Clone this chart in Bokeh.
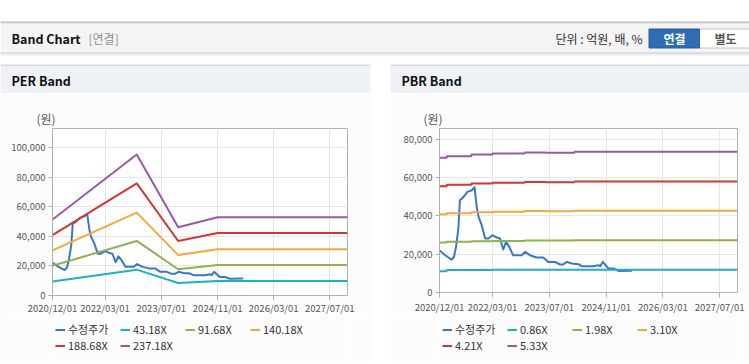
import pandas as pd
from bokeh.plotting import figure
from bokeh.layouts import column, row
from bokeh.models import (Range1d, FixedTicker, DatetimeTickFormatter, NumeralTickFormatter,
                          Legend, LegendItem, Title, Spacer, GlobalInlineStyleSheet)
from bokeh.core.properties import value
from bokeh.embed import file_html
from bokeh.resources import INLINE

# ---------------- data ----------------
x_start = "2020-12-01"
x_end = "2027-12-01"
x_tick_dates = ["2020-12-01", "2022-03-01", "2023-07-01", "2024-11-01", "2026-03-01", "2027-07-01"]

per_y_ticks = [0, 20000, 40000, 60000, 80000, 100000]
per_y_max = 112800
pbr_y_ticks = [0, 20000, 40000, 60000, 80000]
pbr_y_max = 85750

price_label = "수정주가"
price_dates = ["2020-12-01", "2021-01-19", "2021-03-01", "2021-03-16", "2021-04-04", "2021-04-22",
               "2021-05-13", "2021-05-25", "2021-06-25", "2021-07-28", "2021-09-04", "2021-09-28",
               "2021-10-16", "2021-11-01", "2021-11-28", "2021-12-28", "2022-01-25", "2022-02-28",
               "2022-04-07", "2022-05-04", "2022-06-01", "2022-06-25", "2022-07-22", "2022-08-25",
               "2022-11-07", "2022-12-04", "2023-01-16", "2023-03-13", "2023-05-10", "2023-06-22",
               "2023-08-19", "2023-10-01", "2023-10-28", "2023-11-28", "2024-01-10", "2024-03-07",
               "2024-04-04", "2024-07-13", "2024-08-25", "2024-09-10", "2024-10-01", "2024-11-19",
               "2025-01-01", "2025-02-13", "2025-06-10"]
price_values = [22000, 19500, 17770, 17250, 18640, 23860,
                34300, 48260, 49990, 52600, 53490, 55000,
                44760, 39530, 35190, 28230, 28230, 29960,
                28760, 28230, 22480, 26460, 23860, 19500,
                19500, 21230, 19500, 18300, 18300, 16000,
                16000, 14640, 14640, 16000, 15160, 14800,
                13750, 13750, 14280, 13750, 16000, 12550,
                12550, 11300, 11400]

per_band_dates = ["2020-12-01", "2022-12-01", "2023-11-25", "2024-11-01", "2027-12-01"]
per_labels = ["43.18X", "91.68X", "140.18X", "188.68X", "237.18X"]
per_band_1 = [9500, 17450, 8450, 9750, 9750]
per_band_2 = [20100, 36850, 17700, 20600, 20600]
per_band_3 = [30500, 56000, 27300, 31200, 31200]
per_band_4 = [40800, 75700, 36800, 42200, 42200]
per_band_5 = [51300, 95200, 46150, 52900, 52900]

pbr_band_dates = ["2020-12-01", "2021-02-01", "2021-09-01", "2022-03-01", "2022-12-01",
                  "2023-06-01", "2024-02-01", "2027-12-01"]
pbr_labels = ["0.86X", "1.98X", "3.10X", "4.21X", "5.33X"]
pbr_band_1 = [11150, 11800, 11800, 11850, 11850, 11850, 11870, 11870]
pbr_band_2 = [26152, 26473, 26789, 26987, 27185, 27126, 27318, 27318]
pbr_band_3 = [40945, 41447, 41943, 42253, 42563, 42470, 42771, 42771]
pbr_band_4 = [55606, 56288, 56961, 57382, 57803, 57677, 58085, 58085]
pbr_band_5 = [70399, 71262, 72115, 72648, 73181, 73021, 73538, 73538]

price_color = "#3a76c6"
band_colors = ["#1fb0c8", "#8db24f", "#f5a83a", "#d23630", "#9a58a2"]

FONT = "Noto Sans CJK KR"
W = 749
PANEL_BG = "#fcfcfc"


def dts(lst):
    return pd.to_datetime(lst)


def blank_fig(width, height, bg):
    f = figure(width=width, height=height, x_range=Range1d(0, width), y_range=Range1d(height, 0),
               x_axis_location=None, y_axis_location=None, min_border=0,
               output_backend="svg", toolbar_location=None)
    f.grid.visible = False
    f.outline_line_color = None
    f.background_fill_color = bg
    f.border_fill_color = bg
    return f


# ---------------- header (page chrome) ----------------
top = blank_fig(W, 93, "white")
top.quad(left=[0, 0, 0, 0, 0, 0], right=[W, W, W, W, W, W],
         top=[21, 23, 52, 53, 54, 55], bottom=[23, 52, 53, 54, 55, 56],
         fill_color=["#c2c2c2", "#f4f4f4", "#c6c6c6", "#dcdcdc", "#ebebeb", "#f6f6f6"],
         line_color=None)
top.quad(left=[0, 0, 390, 390], right=[370, 370, W, W],
         top=[64, 65.5, 64, 65.5], bottom=[65.5, 93, 65.5, 93],
         fill_color=["#d6dade", "#eef1f6", "#d6dade", "#eef1f6"], line_color=None)
top.quad(left=[699], right=[W + 5], top=[28.5], bottom=[47.5],
         fill_color="#ffffff", line_color="#c4c4c4", line_width=1)
top.quad(left=[648.5], right=[699], top=[28.5], bottom=[47.5],
         fill_color="#2f6db3", line_color="#285f9e", line_width=1)

top.text(x=[11], y=[38], text=["Band Chart"], text_font=value(FONT), text_font_style="bold",
         text_font_size="12.5px", text_baseline="middle", text_color="#111111")
top.text(x=[88], y=[38], text=["[연결]"], text_font=value(FONT),
         text_font_size="12px", text_baseline="middle", text_color="#8c8c8c")
top.text(x=[642], y=[38], text=["단위 : 억원, 배, %"], text_font=value(FONT),
         text_font_size="12px", text_baseline="middle", text_align="right", text_color="#333333")
top.text(x=[674], y=[38], text=["연결"], text_font=value(FONT), text_font_style="bold",
         text_font_size="12px", text_baseline="middle", text_align="center", text_color="#ffffff")
top.text(x=[725], y=[38], text=["별도"], text_font=value(FONT), text_font_style="bold",
         text_font_size="12px", text_baseline="middle", text_align="center", text_color="#555555")
top.text(x=[11, 401], y=[79.5, 79.5], text=["PER Band", "PBR Band"], text_font=value(FONT),
         text_font_style="bold", text_font_size="12.5px", text_baseline="middle", text_color="#111111")


# ---------------- charts ----------------
CHART_H = 225   # from y=93 to y=318
LEG_H = 43      # from y=318 to y=361


def draw_series(p, band_dates, bands, step):
    rs = [p.line(dts(price_dates), price_values, line_color=price_color, line_width=2, line_join="round")]
    for vals, col in zip(bands, band_colors):
        if step:
            rs.append(p.step(dts(band_dates), vals, mode="after", line_color=col, line_width=2))
        else:
            rs.append(p.line(dts(band_dates), vals, line_color=col, line_width=2, line_join="round"))
    return rs


def make_chart(b_left, frame_w, b_right, frame_h, y_max, y_ticks, band_dates, bands,
               step, x_standoff):
    p = figure(frame_width=frame_w, frame_height=frame_h,
               min_border_left=b_left, min_border_right=b_right,
               min_border_top=35, min_border_bottom=CHART_H - 35 - frame_h,
               x_axis_type="datetime",
               x_range=Range1d(pd.Timestamp(x_start).to_pydatetime(), pd.Timestamp(x_end).to_pydatetime()),
               y_range=Range1d(0, y_max),
               output_backend="svg", toolbar_location=None)
    p.background_fill_color = "white"
    p.border_fill_color = PANEL_BG
    p.outline_line_color = "#b0b0b0"
    p.outline_line_width = 1

    p.xaxis.ticker = FixedTicker(ticks=[pd.Timestamp(d).value / 1e6 for d in x_tick_dates])
    fmt = "%Y/%m/%d"
    p.xaxis.formatter = DatetimeTickFormatter(milliseconds=fmt, seconds=fmt, minsec=fmt, minutes=fmt,
                                              hourmin=fmt, hours=fmt, days=fmt, months=fmt, years=fmt)
    p.yaxis.ticker = FixedTicker(ticks=y_ticks)
    p.yaxis.formatter = NumeralTickFormatter(format="0,0")
    for ax in (p.xaxis[0], p.yaxis[0]):
        ax.axis_line_color = "#b0b0b0"
        ax.major_tick_line_color = "#b0b0b0"
        ax.major_tick_out = 5
        ax.major_tick_in = 0
        ax.minor_tick_line_color = None
        ax.major_label_text_font = FONT
        ax.major_label_text_font_size = "9.5px"
        ax.major_label_text_color = "#555555"
    p.xaxis.major_label_standoff = x_standoff
    p.yaxis.major_label_standoff = 3
    p.yaxis.major_tick_out = 4
    p.grid.grid_line_color = "#e6e6e6"

    draw_series(p, band_dates, bands, step)

    p.add_layout(Title(text="(원)", align="left", offset=-16, standoff=3,
                       text_font=FONT, text_font_size="12px", text_color="#555555",
                       text_font_style="normal"), "above")
    return p


def make_legend(width, labels, band_dates, bands, step, x_off):
    # legend strip below a chart; the series are drawn far outside its visible range
    f = blank_fig(width, LEG_H, PANEL_BG)
    rs = draw_series(f, band_dates, bands, step)
    all_labels = [price_label] + labels
    items = [LegendItem(label=lab, renderers=[r]) for lab, r in zip(all_labels, rs)]
    common = dict(orientation="horizontal", glyph_width=10, glyph_height=15, label_height=15,
                  label_width=52, label_standoff=3, spacing=0, padding=0, margin=0,
                  background_fill_alpha=0, border_line_alpha=0, label_text_font=FONT,
                  label_text_font_size="11px", label_text_color="#333333")
    f.add_layout(Legend(items=items[:4], location=(x_off, 24), **common))
    f.add_layout(Legend(items=items[4:], location=(x_off, 8), **common))
    return f


per_bands = [per_band_1, per_band_2, per_band_3, per_band_4, per_band_5]
pbr_bands = [pbr_band_1, pbr_band_2, pbr_band_3, pbr_band_4, pbr_band_5]
per = make_chart(52, 295, 23, 167, per_y_max, per_y_ticks, per_band_dates, per_bands, False, 0)
pbr = make_chart(49, 298, 12, 164, pbr_y_max, pbr_y_ticks, pbr_band_dates, pbr_bands, True, 2)
per_leg = make_legend(370, per_labels, per_band_dates, per_bands, False, 3)
pbr_leg = make_legend(359, pbr_labels, pbr_band_dates, pbr_bands, True, 3)

# ---------------- bottom border strip ----------------
bot = blank_fig(W, 3, "white")
bot.quad(left=[0, 0, 390, 390], right=[370, 370, W, W], top=[0, 1, 0, 1], bottom=[1, 3, 1, 3],
         fill_color=[PANEL_BG, "#d0d0d0", PANEL_BG, "#d0d0d0"], line_color=None)

layout = column(top,
                row(column(per, per_leg), Spacer(width=20, height=CHART_H + LEG_H), column(pbr, pbr_leg)),
                bot)
layout.stylesheets = [GlobalInlineStyleSheet(css="html, body { margin: 0 !important; padding: 0 !important; overflow: hidden; }")]

open("out.html", "w").write(file_html(layout, INLINE))
